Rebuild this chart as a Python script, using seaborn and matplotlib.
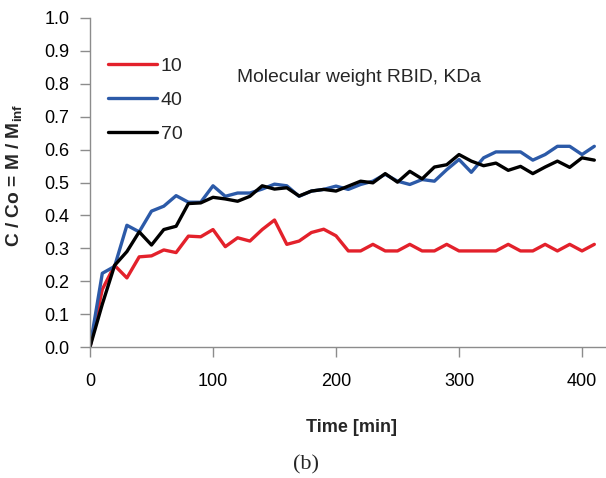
import numpy as np
import pandas as pd
import matplotlib
matplotlib.use("Agg")
import matplotlib.pyplot as plt
import seaborn as sns

time_min = list(range(0, 420, 10))
mw_labels = ["10", "40", "70"]
red_10 = [0, 0.175, 0.248, 0.21, 0.274, 0.277, 0.295, 0.287, 0.337, 0.335, 0.357, 0.305,
          0.332, 0.322, 0.357, 0.386, 0.312, 0.322, 0.348, 0.358, 0.338, 0.292, 0.292, 0.312,
          0.292, 0.292, 0.312, 0.292, 0.292, 0.312, 0.292, 0.292, 0.292, 0.292, 0.312, 0.292,
          0.292, 0.312, 0.292, 0.312, 0.292, 0.312]
blue_40 = [0, 0.224, 0.245, 0.37, 0.35, 0.413, 0.428, 0.46, 0.44, 0.44, 0.49, 0.458,
           0.468, 0.468, 0.48, 0.495, 0.49, 0.458, 0.474, 0.479, 0.489, 0.479, 0.494, 0.504,
           0.525, 0.504, 0.494, 0.509, 0.504, 0.539, 0.57, 0.531, 0.575, 0.593, 0.593, 0.593,
           0.568, 0.585, 0.61, 0.61, 0.585, 0.61]
black_70 = [0, 0.13, 0.248, 0.29, 0.35, 0.31, 0.357, 0.367, 0.436, 0.438, 0.455, 0.45,
            0.443, 0.458, 0.49, 0.48, 0.484, 0.459, 0.474, 0.479, 0.474, 0.489, 0.504, 0.499,
            0.527, 0.501, 0.534, 0.511, 0.547, 0.554, 0.585, 0.565, 0.551, 0.559, 0.537, 0.549,
            0.527, 0.547, 0.565, 0.546, 0.575, 0.568]
x_ticks = [0, 100, 200, 300, 400]
y_ticks = [0.0, 0.1, 0.2, 0.3, 0.4, 0.5, 0.6, 0.7, 0.8, 0.9, 1.0]

sns.set_style("ticks")
plt.rcParams["font.family"] = ["Liberation Sans", "DejaVu Sans"]
plt.rcParams["mathtext.fontset"] = "custom"
plt.rcParams["mathtext.rm"] = "Liberation Sans"
plt.rcParams["mathtext.bf"] = "Liberation Sans:bold"

df = pd.DataFrame({
    "t": time_min * 3,
    "v": red_10 + blue_40 + black_70,
    "mw": [mw_labels[0]] * len(time_min) + [mw_labels[1]] * len(time_min) + [mw_labels[2]] * len(time_min),
})

W, H = 606, 478
fig = plt.figure(figsize=(W / 100, H / 100), dpi=100)
ax = fig.add_axes([90 / W, (H - 347) / H, (W - 90) / W, 329 / H])

palette = {"10": "#e3212b", "40": "#2c5aa8", "70": "#000000"}
sns.lineplot(data=df, x="t", y="v", hue="mw", palette=palette, linewidth=2.4, ax=ax,
             legend=True)

ax.set_xlim(0, 419.5)
ax.set_ylim(0, 1.0)
ax.set_xticks(x_ticks)
ax.set_yticks(y_ticks)
ax.set_yticklabels([f"{v:.1f}" for v in y_ticks])
for s in ["top", "right"]:
    ax.spines[s].set_visible(False)
for s in ["left", "bottom"]:
    ax.spines[s].set_color("#8c8c8c")
    ax.spines[s].set_linewidth(1.0)
ax.tick_params(axis="both", direction="out", length=7, width=1.0, color="#8c8c8c",
               labelsize=13, labelcolor="black")
ax.tick_params(axis="x", pad=12)
ax.tick_params(axis="y", pad=8)

ax.set_xlabel("")
ax.set_ylabel("")
fig.text(351 / W, 1 - 427 / H, "Time [min]", ha="center", va="center", fontsize=13,
         fontweight="bold")
fig.text(15 / W, 1 - 175 / H, r"C / Co = M / M$_{\mathbf{inf}}$", ha="center", va="center",
         rotation=90, fontsize=13.8, fontweight="bold")
fig.text(306 / W, 1 - 465 / H, "(b)", ha="center", va="center", fontsize=16,
         family=["Liberation Serif", "DejaVu Serif"])
fig.text(237 / W, 1 - 77 / H, "Molecular weight RBID, KDa", ha="left", va="center",
         fontsize=13.9)

handles, labels = ax.get_legend_handles_labels()
ax.legend(handles, labels, loc="upper left", bbox_to_anchor=(108 / W, 1 - 57 / H),
          bbox_transform=fig.transFigure, frameon=False, fontsize=14, borderpad=0,
          borderaxespad=0, handlelength=2.5, handletextpad=0.2, labelspacing=0.85)

fig.savefig("out.png", dpi=100)
